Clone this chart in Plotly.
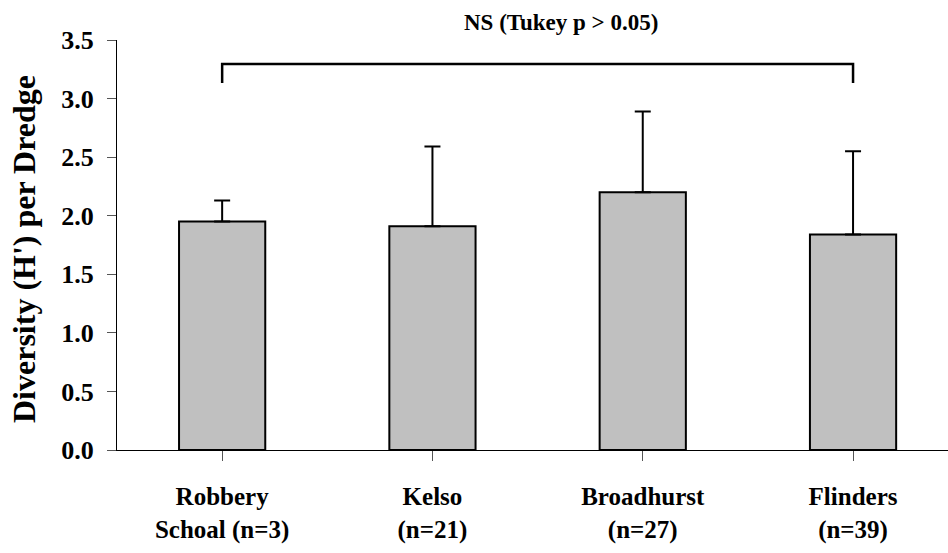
import plotly.graph_objects as go

# Mean Shannon diversity per dredge at each site, with +1 SD error bars
sites = ["Robbery<br>Schoal (n=3)", "Kelso<br>(n=21)", "Broadhurst<br>(n=27)", "Flinders<br>(n=39)"]
diversity = [1.95, 1.91, 2.20, 1.84]
diversity_sd = [0.18, 0.68, 0.69, 0.71]

y_ticks = [0.0, 0.5, 1.0, 1.5, 2.0, 2.5, 3.0, 3.5]
y_tick_text = ["0.0", "0.5", "1.0", "1.5", "2.0", "2.5", "3.0", "3.5"]
y_title = "Diversity (H') per Dredge"

# Significance bracket spanning all sites
bracket_top = 3.295
bracket_foot = 3.133
bracket_label = "NS (Tukey p > 0.05)"

serif = "Liberation Serif, Times New Roman, serif"
idx = list(range(len(sites)))

fig = go.Figure()
fig.add_trace(go.Bar(
    x=idx,
    y=diversity,
    width=0.41,
    marker=dict(color="#C0C0C0", line=dict(color="black", width=2)),
    error_y=dict(type="data", symmetric=False, array=diversity_sd,
                 arrayminus=[0] * len(diversity_sd),
                 color="black", thickness=2, width=8),
    showlegend=False,
    hoverinfo="skip",
))

fig.add_shape(
    type="path",
    xref="x", yref="y",
    path=f"M {idx[0]},{bracket_foot} L {idx[0]},{bracket_top} L {idx[-1]},{bracket_top} L {idx[-1]},{bracket_foot}",
    line=dict(color="black", width=2.5),
)
fig.add_annotation(
    x=1.61, y=1.042, xref="x", yref="paper",
    text=f"<b>{bracket_label}</b>", showarrow=False,
    font=dict(family=serif, size=23, color="black"),
    xanchor="center", yanchor="middle",
)
# Vertical axis title
fig.add_annotation(
    x=-0.112, y=0.49, xref="paper", yref="paper",
    text=f"<b>{y_title}</b>", showarrow=False, textangle=-90,
    font=dict(family=serif, size=32, color="black"),
    xanchor="center", yanchor="middle",
)

fig.update_layout(
    width=948, height=553,
    margin=dict(l=117, r=0, t=40, b=103),
    paper_bgcolor="white", plot_bgcolor="white",
    font=dict(family=serif, color="black"),
)
fig.update_xaxes(
    range=[-0.5, -0.5 + 831 / 210.3],
    tickmode="array", tickvals=idx,
    ticktext=[f"<b>{s.replace('<br>', '</b><br><b>')}</b>" for s in sites],
    tickson="boundaries",
    ticks="outside", ticklen=10, tickcolor="#555", tickwidth=1,
    ticklabelstandoff=14,
    showline=True, linecolor="black", linewidth=1,
    showgrid=False, zeroline=False,
    tickfont=dict(family=serif, size=25, color="black"),
)
fig.update_yaxes(
    range=[0, 3.5],
    tickmode="array", tickvals=y_ticks,
    ticktext=[f"<b>{t}</b>" for t in y_tick_text],
    ticks="outside", ticklen=9, tickcolor="#555", tickwidth=1,
    ticklabelstandoff=8,
    showline=True, linecolor="black", linewidth=1,
    showgrid=False, zeroline=False,
    tickfont=dict(family=serif, size=26, color="black"),
)

fig.write_html("out.html")
